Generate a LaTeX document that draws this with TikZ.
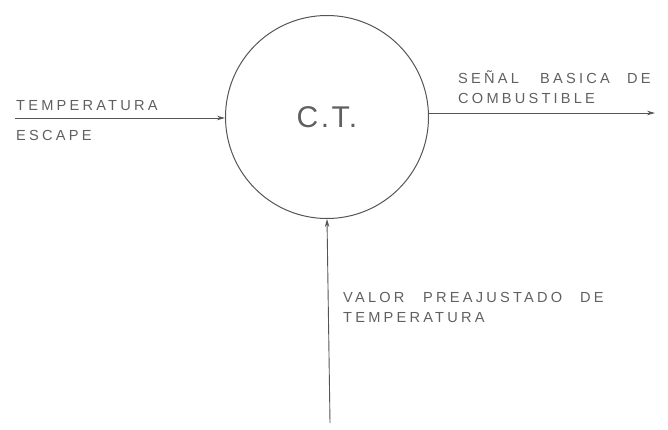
\documentclass[tikz,border=0pt]{standalone}
\usepackage{fontspec}
\setmainfont{Liberation Sans}
\newfontfamily\lblfont[LetterSpace=22]{Liberation Sans}
\newfontfamily\ctfont[LetterSpace=8]{Liberation Sans}
\usetikzlibrary{arrows.meta}
\definecolor{ink}{HTML}{555555}
\definecolor{txt}{HTML}{606060}
\tikzset{
  flow/.style={draw=ink, line width=0.9pt, -{Stealth[length=8pt,width=4.5pt]}},
  lbl/.style={text=txt, font=\lblfont\fontsize{14.6}{17}\selectfont, align=left, inner sep=0pt, anchor=west},
  proc/.style={circle, draw=ink, line width=1pt, minimum size=203pt, inner sep=0pt, text=txt, font=\ctfont\fontsize{30}{34}\selectfont}
}
\newcommand{\wbox}[2]{\makebox[#1][l]{#2}}
\begin{document}
\begin{tikzpicture}[x=1pt,y=-1pt]
\useasboundingbox (0,0) rectangle (668,430);
\node[proc] (ct) at (327,117) {C.T.};
\coordinate (inL) at (15,118);
\coordinate (outR) at (655,113);
\coordinate (inB) at (330,423);
\draw[flow] (inL) -- (ct.west |- inL);
\draw[flow] (ct.east |- outR) -- (outR);
\draw[flow] (inB) -- (ct.south);
\node[lbl] (t1) at (16,106) {TEMPERATURA};
\node[lbl] (t2) at (16,135) {ESCAPE};
\node[lbl] (t3) at (458,77) {\wbox{82pt}{SEÑAL}\wbox{87pt}{BASICA}DE};
\node[lbl] (t4) at (458,98) {COMBUSTIBLE};
\node[lbl] (t5) at (343,297) {\wbox{80pt}{VALOR}\wbox{157pt}{PREAJUSTADO}DE};
\node[lbl] (t6) at (343,318) {TEMPERATURA};
\end{tikzpicture}
\end{document}
